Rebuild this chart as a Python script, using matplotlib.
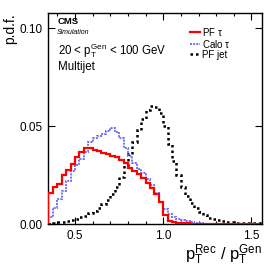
import numpy as np
import matplotlib.pyplot as plt
from matplotlib.ticker import MultipleLocator

plt.rcParams['font.family'] = ['Liberation Sans', 'DejaVu Sans']
plt.rcParams['mathtext.fontset'] = 'custom'
plt.rcParams['mathtext.rm'] = 'Liberation Sans'
plt.rcParams['mathtext.it'] = 'Liberation Sans'

# histogram bins (width 0.025 starting at 0.35)
bin_lo = 0.35
bin_w = 0.025

pf_tau = [0.016, 0.019, 0.0205, 0.025, 0.0276, 0.0307, 0.0341, 0.0367, 0.0387, 0.0387,
          0.0379, 0.0372, 0.0365, 0.0358, 0.0350, 0.0340, 0.0328, 0.0310, 0.0285, 0.0270,
          0.0255, 0.0235, 0.0212, 0.0185, 0.0155, 0.0115, 0.0048, 0.0018, 0.0010, 0.0007,
          0.0005, 0.0004, 0.0003, 0.0003, 0.0002, 0.0002, 0.0002, 0.0001, 0.0001, 0.0001,
          0.0001, 0.0001, 0.0001, 0.0001, 0.0001, 0.0001, 0.0001, 0.0001]

calo_tau = [0.0035, 0.008, 0.013, 0.017, 0.022, 0.027, 0.030, 0.033, 0.037, 0.042,
            0.044, 0.045, 0.046, 0.0475, 0.049, 0.047, 0.044, 0.039, 0.0345, 0.031,
            0.028, 0.026, 0.023, 0.020, 0.016, 0.0115, 0.0075, 0.005, 0.0037, 0.0028,
            0.0022, 0.0014, 0.0010, 0.0006, 0.0004, 0.0003, 0.0003, 0.0002, 0.0002, 0.0001,
            0.0001, 0.0001, 0.0001, 0.0001, 0.0001, 0.0001, 0.0001, 0.0001]

pf_jet = [0.0003, 0.0006, 0.0009, 0.0012, 0.0016, 0.0021, 0.0027, 0.0034, 0.0043, 0.0055,
          0.0068, 0.0083, 0.0102, 0.0125, 0.0155, 0.019, 0.024, 0.030, 0.036, 0.042,
          0.048, 0.0535, 0.058, 0.0605, 0.060, 0.0565, 0.050, 0.041, 0.032, 0.025,
          0.019, 0.0145, 0.011, 0.008, 0.006, 0.0045, 0.0033, 0.0025, 0.0019, 0.0015,
          0.0012, 0.0010, 0.0008, 0.0007, 0.0006, 0.0005, 0.0004, 0.0004]

edges = bin_lo + bin_w * np.arange(len(pf_tau) + 1)

fig = plt.figure(figsize=(2.8, 2.71), dpi=100)
ax = fig.add_axes([0.170, 0.173, 0.766, 0.779])

ax.stairs(pf_jet, edges, color='black', lw=1.8, ls=(0, (1, 1.2)), label='PF jet', zorder=2)
ax.stairs(calo_tau, edges, color='#7070ff', lw=1.4, ls=(0, (1, 0.6)), label='Calo $\\tau$', zorder=3)
ax.stairs(pf_tau, edges, color='red', lw=1.6, label='PF $\\tau$', zorder=4)

ax.set_xlim(0.345, 1.56)
ax.set_ylim(0, 0.1077)

ax.xaxis.set_major_locator(MultipleLocator(0.5))
ax.xaxis.set_minor_locator(MultipleLocator(0.1))
ax.yaxis.set_major_locator(MultipleLocator(0.05))
ax.yaxis.set_major_formatter(plt.FormatStrFormatter('%.2f'))
ax.tick_params(which='both', direction='in', top=True, right=True, labelsize=8.5)
ax.tick_params(which='major', length=5, width=0.8)
ax.tick_params(which='minor', length=2.5, width=0.8)
ax.tick_params(axis='x', pad=4)
for s in ax.spines.values():
    s.set_linewidth(1.0)

ax.set_ylabel('p.d.f.', fontsize=10, loc='top', labelpad=2)
ax.set_xlabel('$\\mathregular{p_T^{Rec}\\ /\\ p_T^{Gen}}$', fontsize=12, loc='right', labelpad=1)

ax.text(0.045, 0.979, 'CMS', transform=ax.transAxes, fontsize=6.8, fontweight='bold', va='top')
ax.text(0.045, 0.925, 'Simulation', transform=ax.transAxes, fontsize=5, style='italic', va='top')
ax.text(0.05, 0.865, '20 < $\\mathregular{p_T^{Gen}}$ < 100 GeV', transform=ax.transAxes, fontsize=8.3, va='top')
ax.text(0.05, 0.772, 'Multijet', transform=ax.transAxes, fontsize=8.3, va='top')

h, l = ax.get_legend_handles_labels()
order = [2, 1, 0]
ax.legend([h[i] for i in order], [l[i] for i in order], loc='upper left',
          bbox_to_anchor=(0.664, 0.94), frameon=False, fontsize=7,
          handlelength=1.0, handletextpad=0.2, labelspacing=0.0,
          borderpad=0, borderaxespad=0)

fig.savefig('out.png', dpi=100)
